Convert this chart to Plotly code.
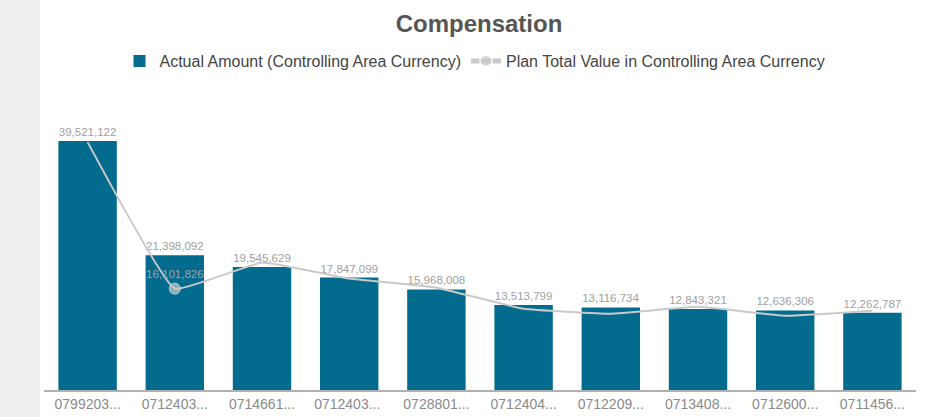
import plotly.graph_objects as go

categories = ["0799203...", "0712403...", "0714661...", "0712403... ", "0728801...",
              "0712404...", "0712209...", "0713408...", "0712600...", "0711456..."]
actual = [39521122, 21398092, 19545629, 17847099, 15968008,
          13513799, 13116734, 12843321, 12636306, 12262787]
plan = [39360000, 16100000, 20240000, 17690000, 16250000,
        12900000, 12100000, 13200000, 11800000, 12600000]
actual_labels = ["39,521,122", "21,398,092", "19,545,629", "17,847,099", "15,968,008",
                 "13,513,799", "13,116,734", "12,843,321", "12,636,306", "12,262,787"]
plan_labels = ["", "16,101,826", "", "", "", "", "", "", "", ""]
plan_marker_sizes = [0, 11, 0, 0, 0, 0, 0, 0, 0, 0]

FONT = "Liberation Sans, Arial"

fig = go.Figure()
fig.add_trace(go.Bar(
    x=categories, y=actual, name="Actual Amount (Controlling Area Currency)",
    marker=dict(color="#036c8e", line=dict(width=0)),
    text=actual_labels, textposition="outside",
    textfont=dict(family=FONT, size=11.5, color="#a0a0a0"),
    cliponaxis=False, hoverinfo="skip",
))
fig.add_trace(go.Scatter(
    x=categories, y=plan, name="Plan Total Value in Controlling Area Currency",
    mode="lines+markers+text",
    line=dict(color="#c9c9c9", width=2, shape="spline", smoothing=0.3),
    marker=dict(color="#c9c9c9", size=plan_marker_sizes),
    text=plan_labels, textposition="top center",
    textfont=dict(family=FONT, size=11.5, color="#a0a0a0"),
    cliponaxis=False, hoverinfo="skip",
))

W, H = 928, 417
fig.update_layout(
    width=W, height=H,
    margin=dict(l=0, r=0, t=0, b=0),
    paper_bgcolor="white", plot_bgcolor="white",
    bargap=0.33,
    showlegend=True,
    title=dict(text="<b>Compensation</b>", x=479 / W, xanchor="center",
               y=1 - 24 / H, yanchor="middle",
               font=dict(family=FONT, size=24, color="#555555")),
    legend=dict(orientation="h", x=475 / W, xanchor="center", y=1 - 61 / H, yanchor="middle",
                font=dict(family=FONT, size=16, color="#444444"),
                traceorder="normal", itemsizing="constant", bgcolor="rgba(0,0,0,0)"),
    xaxis=dict(domain=[44 / W, 916 / W], range=[-0.5, 9.5], autorange=False,
               showline=True, linecolor="#b0b0b0", linewidth=2,
               showgrid=False, ticks="", zeroline=False,
               tickfont=dict(family=FONT, size=14, color="#8a8a8a")),
    yaxis=dict(domain=[1 - 390 / H, 1 - 100 / H], range=[0, 46050000], visible=False,
               showgrid=False, zeroline=False),
    shapes=[dict(type="rect", xref="paper", yref="paper", x0=0, x1=40 / W, y0=0, y1=1,
                 fillcolor="#efefef", line=dict(width=0), layer="below")],
)

fig.write_html("out.html", config={"displayModeBar": False},
               post_script="document.body.style.margin='0';document.body.style.overflow='hidden';")
